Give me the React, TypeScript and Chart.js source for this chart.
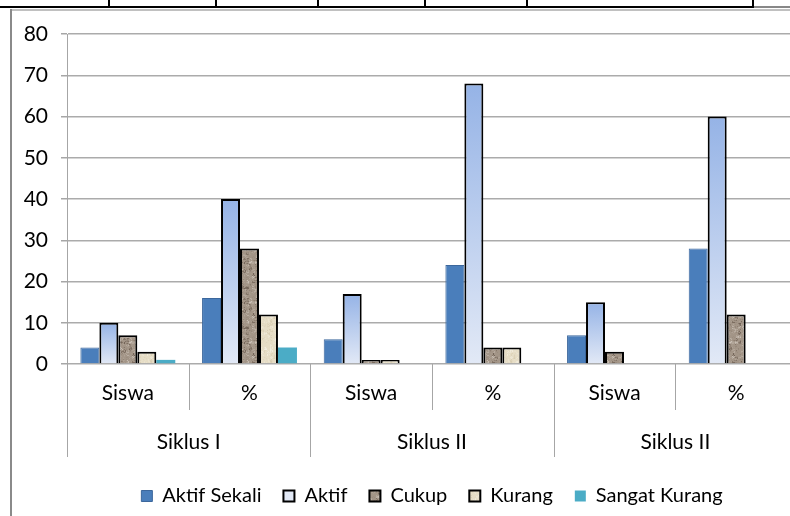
import React, { useEffect, useRef } from "react";
import { Chart, registerables } from "chart.js";

Chart.register(...registerables);

const categories = ["Siswa", "%", "Siswa", "%", "Siswa", "%"];
const groupLabels = ["Siklus I", "Siklus II", "Siklus II"];
const seriesNames = ["Aktif Sekali", "Aktif", "Cukup", "Kurang", "Sangat Kurang"];
const aktifSekali = [4, 16, 6, 24, 7, 28];
const aktif = [10, 40, 17, 68, 15, 60];
const cukup = [7, 28, 1, 4, 3, 12];
const kurang = [3, 12, 1, 4, 0, 0];
const sangatKurang = [1, 4, 0, 0, 0, 0];
const yTicks = [0, 10, 20, 30, 40, 50, 60, 70, 80];

const FONT = "Lato";

function hash(x: number, y: number, s: number) {
  const v = Math.sin(x * 12.9898 + y * 78.233 + s * 37.719) * 43758.5453;
  return v - Math.floor(v);
}

function makeTexture(base: number[], dark: number[], light: number[], amount: number, seed: number) {
  const size = 40;
  const c = document.createElement("canvas");
  c.width = size;
  c.height = size;
  const g = c.getContext("2d")!;
  const img = g.createImageData(size, size);
  for (let j = 0; j < size; j++) {
    for (let i = 0; i < size; i++) {
      const coarse = hash(Math.floor(i / 3), Math.floor(j / 3), seed);
      const fine = hash(i, j, seed + 1);
      const n = coarse * 0.6 + fine * 0.4;
      let col = base;
      let t = 0;
      if (n < 0.35) {
        col = dark;
        t = ((0.35 - n) / 0.35) * amount;
      } else if (n > 0.65) {
        col = light;
        t = ((n - 0.65) / 0.35) * amount;
      }
      const k = (j * size + i) * 4;
      img.data[k] = base[0] + (col[0] - base[0]) * t;
      img.data[k + 1] = base[1] + (col[1] - base[1]) * t;
      img.data[k + 2] = base[2] + (col[2] - base[2]) * t;
      img.data[k + 3] = 255;
    }
  }
  g.putImageData(img, 0, 0);
  return g.createPattern(c, "repeat")!;
}

const groupPlugin = {
  id: "groupAxis",
  afterLayout(chart: any) {
    if (chart.legend) {
      chart.legend.left = chart.chartArea.left;
      chart.legend.right = chart.chartArea.right;
    }
  },
  afterDraw(chart: any) {
    const ctx = chart.ctx;
    const xs = chart.scales.x;
    const area = chart.chartArea;
    const n = categories.length;
    const bounds: number[] = [];
    for (let i = 0; i <= n; i++) {
      if (i === 0) bounds.push(area.left);
      else if (i === n) bounds.push(area.right);
      else bounds.push((xs.getPixelForValue(i - 1) + xs.getPixelForValue(i)) / 2);
    }
    ctx.save();
    ctx.strokeStyle = "#a6a6a6";
    ctx.lineWidth = 1;
    bounds.forEach((px, i) => {
      const len = i % 2 === 0 ? 93 : 46;
      const x = Math.round(px) + 0.5;
      ctx.beginPath();
      ctx.moveTo(x, area.bottom);
      ctx.lineTo(x, area.bottom + len);
      ctx.stroke();
    });
    ctx.fillStyle = "#000";
    ctx.font = `21px ${FONT}`;
    ctx.textAlign = "center";
    ctx.textBaseline = "middle";
    groupLabels.forEach((lab, g) => {
      const cx = bounds[2 * g + 1];
      ctx.fillText(lab, cx, area.bottom + 78);
    });
    ctx.restore();
  },
};

export default function App() {
  const ref = useRef<HTMLCanvasElement>(null);
  useEffect(() => {
    document.body.style.margin = "0";
    const cukupPat = makeTexture([163, 149, 135], [105, 90, 78], [205, 196, 186], 1, 3);
    const kurangPat = makeTexture([230, 221, 198], [214, 202, 174], [244, 239, 226], 1, 7);
    const aktifFill = (c: any) => {
      const chart = c.chart;
      if (c.type !== "data" || !chart.chartArea || !chart.scales.y) return "#c9d7f0";
      const ys = chart.scales.y;
      const top = ys.getPixelForValue(c.raw);
      const bottom = ys.getPixelForValue(0);
      if (!isFinite(top) || bottom - top < 1) return "#c9d7f0";
      const g = chart.ctx.createLinearGradient(0, top, 0, bottom);
      g.addColorStop(0, "#95b3e6");
      g.addColorStop(1, "#e2e9f6");
      return g;
    };
    const chart = new Chart(ref.current!, {
      type: "bar",
      data: {
        labels: categories,
        datasets: [
          { label: seriesNames[0], data: aktifSekali, backgroundColor: "#4a7ebb", borderColor: "#3c679c", borderWidth: 1 },
          { label: seriesNames[1], data: aktif, backgroundColor: aktifFill, borderColor: "#000", borderWidth: 2 },
          { label: seriesNames[2], data: cukup, backgroundColor: cukupPat, borderColor: "#000", borderWidth: 2 },
          { label: seriesNames[3], data: kurang, backgroundColor: kurangPat, borderColor: "#000", borderWidth: 2 },
          { label: seriesNames[4], data: sangatKurang, backgroundColor: "#4bacc6", borderWidth: 0 },
        ],
      },
      options: {
        responsive: false,
        maintainAspectRatio: false,
        animation: false,
        layout: { padding: { left: 12, right: 3, top: 34, bottom: 0 } },
        datasets: { bar: { categoryPercentage: 0.78, barPercentage: 1 } },
        plugins: {
          tooltip: { enabled: false },
          legend: {
            position: "bottom",
            labels: {
              boxWidth: 11,
              boxHeight: 11,
              padding: 22,
              color: "#000",
              font: { family: FONT, size: 20 },
            },
          },
        },
        scales: {
          x: {
            grid: { display: false, drawTicks: false },
            border: { display: false },
            ticks: { color: "#000", font: { family: FONT, size: 21 }, padding: 17, maxRotation: 0, autoSkip: false },
            afterFit: (s: any) => {
              s.height = 100;
            },
          },
          y: {
            min: 0,
            max: 80,
            afterBuildTicks: (s: any) => {
              s.ticks = yTicks.map((v) => ({ value: v }));
            },
            grid: { color: "#ababab", lineWidth: 1.5, tickLength: 6, tickColor: "#a6a6a6" },
            border: { display: true, color: "#a6a6a6", width: 1 },
            ticks: { color: "#000", font: { family: FONT, size: 21 }, padding: 13 },
            afterFit: (s: any) => {
              s.width = 55;
            },
          },
        },
      },
      plugins: [groupPlugin],
    });
    return () => chart.destroy();
  }, []);

  const vLines = [108, 215, 317, 424, 526, 752];
  return (
    <div style={{ position: "fixed", left: 0, top: 0, width: 790, height: 516, overflow: "hidden", background: "#fff" }}>
      <canvas ref={ref} width={800} height={516} style={{ position: "absolute", left: 0, top: 0, width: 800, height: 516 }} />
      <div style={{ position: "absolute", left: 0, top: 6, width: 754, height: 2, background: "#000" }} />
      <div style={{ position: "absolute", left: 754, top: 6, width: 40, height: 2, background: "#888" }} />
      {vLines.map((x) => (
        <div key={x} style={{ position: "absolute", left: x, top: 0, width: 2, height: 8, background: "#000" }} />
      ))}
      <div style={{ position: "absolute", left: 10, top: 9, width: 790, height: 2, background: "#c0c0c0" }} />
      <div style={{ position: "absolute", left: 10, top: 9, width: 2, height: 520, background: "#8a8a8a" }} />
    </div>
  );
}
